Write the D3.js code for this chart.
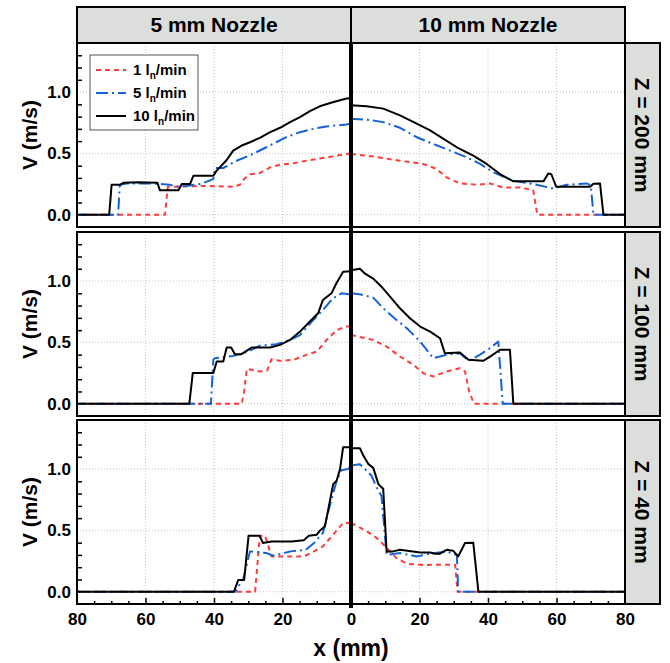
<!DOCTYPE html>
<html>
<head>
<meta charset="utf-8">
<script src="https://cdn.jsdelivr.net/npm/d3@7"></script>
<style>
  body { margin: 0; background: #fff; }
  svg { font-family: 'Liberation Sans', Arial, sans-serif; font-weight: bold; }
</style>
</head>
<body>
<div id="chart"></div>
<script>
// labels
const nozzleLabels = ['5 mm Nozzle', '10 mm Nozzle'];
const heightLabels = ['Z = 200 mm', 'Z = 100 mm', 'Z = 40 mm'];
const flowLabels = ['1', '5', '10'];
const xTickValues = [0, 20, 40, 60, 80];
const yTickValues = [0, 0.5, 1.0];

const z200Nozzle5Flow1 = [[0,0.5],[1.3,0.496],[7.1,0.467],[12.0,0.446],[16.8,0.42],[20.7,0.408],[23.6,0.386],[26.6,0.34],[29.5,0.33],[30.9,0.30],[32.4,0.245],[34.4,0.228],[42.1,0.235],[53.5,0.228],[54.3,0],[80,0]];
const z200Nozzle5Flow5 = [[0,0.745],[1.3,0.736],[7.2,0.72],[11.0,0.70],[14.9,0.673],[18.9,0.632],[21.8,0.591],[24.7,0.55],[28.6,0.496],[33.4,0.44],[37.3,0.381],[39.7,0.381],[40.2,0.29],[44,0.25],[48,0.235],[51,0.228],[53,0.245],[58,0.255],[65.6,0.255],[67.5,0.244],[68.0,0],[80,0]];
const z200Nozzle5Flow10 = [[0,0.95],[1.3,0.947],[3.2,0.933],[6.1,0.911],[9.1,0.884],[12.0,0.845],[14.9,0.796],[17.8,0.755],[20.7,0.709],[23.6,0.673],[26.6,0.627],[29.5,0.591],[31.9,0.564],[34.4,0.523],[36.3,0.446],[39.2,0.36],[40.2,0.318],[46.0,0.318],[47.0,0.25],[49.4,0.25],[50.4,0.2],[55.8,0.2],[56.5,0.26],[62,0.265],[66.5,0.26],[67.4,0.244],[69.9,0.244],[70.6,0],[80,0]];

const z200Nozzle10Flow1 = [[0,0.496],[6.5,0.475],[14.3,0.44],[21.1,0.414],[25.0,0.373],[27.9,0.304],[31.8,0.255],[36.7,0.245],[40.6,0.255],[44.5,0.222],[49.3,0.222],[53.2,0.20],[54.4,0],[80,0]];
const z200Nozzle10Flow5 = [[0,0.783],[4.6,0.775],[9.4,0.755],[14.3,0.709],[19.2,0.632],[24.0,0.577],[28.9,0.523],[33.8,0.468],[37.7,0.414],[41.6,0.345],[47.4,0.277],[53.2,0.25],[59.1,0.214],[63.0,0.244],[68.8,0.255],[70.0,0.24],[70.8,0],[80,0]];
const z200Nozzle10Flow10 = [[0,0.892],[4.6,0.884],[9.4,0.865],[14.3,0.81],[19.2,0.742],[23.1,0.687],[27.0,0.619],[30.9,0.55],[35.7,0.482],[39.6,0.414],[43.5,0.332],[47.4,0.272],[56.2,0.272],[57.6,0.337],[58.5,0.33],[59.9,0.228],[69.8,0.228],[70.8,0.253],[72.7,0.255],[73.7,0],[80,0]];

const z100Nozzle5Flow1 = [[0,0.63],[1.3,0.63],[4.2,0.6],[7.1,0.52],[10.0,0.425],[12.9,0.4],[16.8,0.358],[20.7,0.35],[23.2,0.363],[24.5,0.27],[26.6,0.263],[30.4,0.285],[31.2,0.1],[31.9,0],[80,0]];
const z100Nozzle5Flow5 = [[0,0.89],[2.8,0.9],[5.3,0.859],[8.2,0.764],[11.0,0.683],[14.9,0.56],[17.8,0.52],[21.8,0.485],[26.6,0.474],[30.4,0.42],[34.4,0.39],[37.3,0.38],[39.8,0.37],[40.2,0.358],[40.9,0],[80,0]];
const z100Nozzle5Flow10 = [[0,1.08],[2.3,1.076],[4.3,0.98],[5.7,0.9],[8.2,0.846],[9.6,0.737],[12.0,0.67],[14.9,0.588],[17.8,0.52],[20.7,0.48],[23.6,0.458],[29.0,0.458],[32.0,0.404],[33.9,0.404],[35.0,0.458],[36.3,0.458],[37.3,0.344],[39.2,0.344],[40.2,0.25],[46.2,0.25],[47.2,0],[80,0]];

const z100Nozzle10Flow1 = [[0,0.561],[6.5,0.52],[10.4,0.466],[14.3,0.385],[18.2,0.317],[21.1,0.249],[24.0,0.222],[27.9,0.263],[31.8,0.29],[33.3,0.263],[34.5,0.1],[35.9,0],[80,0]];
const z100Nozzle10Flow5 = [[0,0.9],[2.9,0.89],[6.5,0.865],[9.4,0.778],[13.3,0.683],[16.3,0.615],[20.2,0.507],[24.0,0.371],[27.9,0.4],[31.8,0.412],[34.3,0.35],[37.7,0.4],[40.6,0.453],[43.0,0.507],[44.3,0],[80,0]];
const z100Nozzle10Flow10 = [[0,1.089],[2.6,1.1],[4.1,1.06],[6.5,1.02],[8.9,0.954],[11.4,0.873],[14.3,0.778],[17.2,0.697],[20.2,0.629],[23.1,0.588],[26.0,0.534],[27.4,0.412],[31.8,0.417],[34.3,0.358],[38.6,0.35],[40.6,0.384],[43.5,0.44],[46.4,0.44],[47.4,0],[80,0]];

const z40Nozzle5Flow1 = [[0,0.561],[2.3,0.561],[5.2,0.465],[8.2,0.37],[10.8,0.329],[13.8,0.288],[23.2,0.288],[25.1,0.457],[26.6,0.457],[27.4,0.2],[28.0,0],[80,0]];
const z40Nozzle5Flow5 = [[0,1.02],[0.9,1.0],[2.8,0.99],[4.2,0.904],[6.2,0.698],[8.2,0.479],[10.8,0.397],[13.2,0.342],[17.6,0.329],[22.7,0.293],[24.6,0.315],[29.5,0.329],[31.5,0.1],[32.3,0.07],[33.7,0],[80,0]];
const z40Nozzle5Flow10 = [[0,1.178],[2.3,1.178],[3.2,1.0],[4.2,0.904],[5.2,0.877],[7.6,0.534],[9.0,0.5],[10.0,0.465],[12.3,0.457],[13.8,0.42],[17.4,0.41],[23.2,0.41],[25.7,0.397],[26.7,0.457],[29.9,0.457],[31.2,0.096],[32.9,0.096],[34.2,0],[80,0]];

const z40Nozzle10Flow1 = [[0,0.561],[4.6,0.493],[7.5,0.438],[10.0,0.37],[13.3,0.274],[16.3,0.228],[21.1,0.218],[26.0,0.22],[30.4,0.22],[31.1,0],[80,0]];
const z40Nozzle10Flow5 = [[0,1.03],[2.6,1.04],[4.6,0.986],[6.0,0.945],[7.5,0.849],[8.9,0.781],[10.4,0.301],[14.3,0.315],[19.2,0.288],[23.1,0.31],[27.9,0.329],[30.9,0.30],[31.3,0],[80,0]];
const z40Nozzle10Flow10 = [[0,1.17],[2.6,1.17],[3.6,1.11],[5.1,1.04],[6.5,1.01],[8.0,0.877],[9.4,0.84],[10.4,0.329],[12.3,0.329],[14.3,0.342],[20.2,0.32],[23.1,0.32],[24.5,0.31],[26.0,0.31],[27.9,0.342],[29.8,0.335],[31.3,0.288],[33.3,0.397],[35.7,0.4],[37.2,0],[80,0]];

// rows (Z) x columns (nozzle) x flows
const profiles = [
    [[z200Nozzle5Flow1, z200Nozzle5Flow5, z200Nozzle5Flow10], [z200Nozzle10Flow1, z200Nozzle10Flow5, z200Nozzle10Flow10]],
    [[z100Nozzle5Flow1, z100Nozzle5Flow5, z100Nozzle5Flow10], [z100Nozzle10Flow1, z100Nozzle10Flow5, z100Nozzle10Flow10]],
    [[z40Nozzle5Flow1, z40Nozzle5Flow5, z40Nozzle5Flow10], [z40Nozzle10Flow1, z40Nozzle10Flow5, z40Nozzle10Flow10]]
];

class ProfileGrid {
    constructor(config) {
        this.config = config;
        this.width = config.width;
        this.height = config.height;
        this.left = config.left;
        this.center = config.center;
        this.right = config.right;
        this.stripRight = config.stripRight;
        this.headerTop = config.headerTop;
        this.rowTops = config.rowTops;
        this.panelHeight = config.panelHeight;
        this.styles = config.styles;
        this.svg = null;
        this.xScales = null;
        this.yScales = null;
        this.createSvg();
    }

    createSvg() {
        this.svg = d3.select(this.config.div)
            .append('svg')
            .attr('width', this.width)
            .attr('height', this.height);
    }

    createScales() {
        this.xScales = [
            d3.scaleLinear().domain([80, 0]).range([this.left, this.center]),
            d3.scaleLinear().domain([0, 80]).range([this.center, this.right])
        ];
        this.yScales = this.rowTops.map(t =>
            d3.scaleLinear().domain([-0.1, 1.4]).range([t + this.panelHeight, t]));
    }

    createGrid() {
        this.rowTops.forEach((t, r) => {
            const y = this.yScales[r];
            const g = this.svg.append('g').attr('class', 'grid');
            this.xScales.forEach(x => {
                g.selectAll(null)
                    .data([20, 40, 60])
                    .join('line')
                    .attr('x1', d => x(d)).attr('x2', d => x(d))
                    .attr('y1', t).attr('y2', t + this.panelHeight);
            });
            g.selectAll(null)
                .data(yTickValues)
                .join('line')
                .attr('x1', this.left).attr('x2', this.right)
                .attr('y1', d => y(d)).attr('y2', d => y(d));
            g.selectAll('line')
                .attr('stroke', '#c4c4c4')
                .attr('stroke-width', 1)
                .attr('stroke-dasharray', '1,2');
        });
    }

    createLines() {
        profiles.forEach((row, r) => {
            row.forEach((col, c) => {
                const line = d3.line()
                    .x(d => this.xScales[c](d[0]))
                    .y(d => this.yScales[r](d[1]));
                col.forEach((series, f) => {
                    const s = this.styles[f];
                    this.svg.append('path')
                        .datum(series)
                        .attr('d', line)
                        .attr('fill', 'none')
                        .attr('stroke', s.color)
                        .attr('stroke-width', 2)
                        .attr('stroke-linejoin', 'round')
                        .attr('stroke-dasharray', s.dash);
                });
            });
        });
    }

    createAxes() {
        const fmt = d3.format('.1f');
        const minorY = d3.range(1, 14).map(d => d / 10).filter(d => d !== 0.5 && d !== 1);
        this.rowTops.forEach((t, r) => {
            const y = this.yScales[r];
            this.svg.append('g')
                .attr('transform', `translate(${this.left},0)`)
                .call(d3.axisLeft(y).tickValues(minorY).tickSize(-5).tickFormat(''))
                .call(g => g.select('.domain').remove())
                .selectAll('line').attr('stroke', '#000').attr('stroke-width', 1.5);
            this.svg.append('g')
                .attr('transform', `translate(${this.left},0)`)
                .call(d3.axisLeft(y).tickValues(yTickValues).tickSize(0).tickPadding(6).tickFormat(fmt))
                .call(g => g.select('.domain').remove())
                .selectAll('text')
                .attr('font-family', "'Liberation Sans', Arial, sans-serif")
                .attr('font-weight', 'bold')
                .attr('font-size', 17)
                .attr('fill', '#000');

            this.svg.append('text')
                .attr('transform', `translate(30,${t + this.panelHeight / 2}) rotate(-90)`)
                .attr('text-anchor', 'middle')
                .attr('dy', '0.35em')
                .attr('font-size', 21)
                .text('V (m/s)');
        });

        const bottom = this.rowTops[2] + this.panelHeight;
        const minorX = d3.range(5, 80, 5).filter(d => d % 20 !== 0);
        this.xScales.forEach((x, c) => {
            this.svg.append('g')
                .attr('transform', `translate(0,${bottom})`)
                .call(d3.axisBottom(x).tickValues(minorX).tickSize(-3).tickFormat(''))
                .call(g => g.select('.domain').remove())
                .selectAll('line').attr('stroke', '#000').attr('stroke-width', 1.5);
            this.svg.append('g')
                .attr('transform', `translate(0,${bottom})`)
                .call(d3.axisBottom(x).tickValues([20, 40, 60]).tickSize(-6).tickFormat(''))
                .call(g => g.select('.domain').remove())
                .selectAll('line').attr('stroke', '#000').attr('stroke-width', 1.5);
            this.svg.append('g')
                .attr('transform', `translate(0,${bottom})`)
                .call(d3.axisBottom(x).tickValues(c === 0 ? xTickValues : xTickValues.slice(1)).tickSize(0).tickPadding(9))
                .call(g => g.select('.domain').remove())
                .selectAll('text')
                .attr('font-family', "'Liberation Sans', Arial, sans-serif")
                .attr('font-weight', 'bold')
                .attr('font-size', 17)
                .attr('fill', '#000');
        });

        this.svg.append('text')
            .attr('x', this.center)
            .attr('y', 656)
            .attr('text-anchor', 'middle')
            .attr('font-size', 23)
            .text('x (mm)');
    }

    createFrames() {
        this.rowTops.forEach((t, r) => {
            this.svg.append('rect')
                .attr('x', this.left).attr('y', t)
                .attr('width', this.right - this.left).attr('height', this.panelHeight)
                .attr('fill', 'none').attr('stroke', '#000').attr('stroke-width', 2);

            this.svg.append('rect')
                .attr('x', this.right).attr('y', t)
                .attr('width', this.stripRight - this.right).attr('height', this.panelHeight)
                .attr('fill', '#dcdedb').attr('stroke', '#000').attr('stroke-width', 2);

            this.svg.append('text')
                .attr('transform', `translate(${(this.right + this.stripRight) / 2},${t + this.panelHeight / 2}) rotate(90)`)
                .attr('text-anchor', 'middle')
                .attr('dy', '0.35em')
                .attr('font-size', 21)
                .text(heightLabels[r]);
        });

        const headerBottom = this.rowTops[0];
        this.svg.append('rect')
            .attr('x', this.left).attr('y', this.headerTop)
            .attr('width', this.right - this.left).attr('height', headerBottom - this.headerTop)
            .attr('fill', '#dcdedb').attr('stroke', '#000').attr('stroke-width', 2);
        this.svg.append('line')
            .attr('x1', this.center).attr('x2', this.center)
            .attr('y1', this.headerTop).attr('y2', headerBottom)
            .attr('stroke', '#000').attr('stroke-width', 2);
        nozzleLabels.forEach((label, c) => {
            const cx = c === 0 ? (this.left + this.center) / 2 : (this.center + this.right) / 2;
            this.svg.append('text')
                .attr('x', cx)
                .attr('y', (this.headerTop + headerBottom) / 2)
                .attr('dy', '0.35em')
                .attr('text-anchor', 'middle')
                .attr('font-size', 21)
                .text(label);
        });

        // heavy axis line at x = 0
        this.svg.append('line')
            .attr('x1', this.center).attr('x2', this.center)
            .attr('y1', headerBottom).attr('y2', this.rowTops[2] + this.panelHeight + 4)
            .attr('stroke', '#000').attr('stroke-width', 4);
    }

    createLegend() {
        const lg = this.svg.append('g').attr('transform', 'translate(90,55)');
        lg.append('rect')
            .attr('width', 108).attr('height', 75)
            .attr('fill', '#fff').attr('stroke', '#555').attr('stroke-width', 1);
        flowLabels.forEach((flow, f) => {
            const s = this.styles[f];
            const yy = 15 + f * 23;
            lg.append('line')
                .attr('x1', 6).attr('x2', 36)
                .attr('y1', yy).attr('y2', yy)
                .attr('stroke', s.color).attr('stroke-width', 2)
                .attr('stroke-dasharray', s.dash);
            const txt = lg.append('text')
                .attr('x', 43).attr('y', yy + 5)
                .attr('font-size', 15);
            txt.append('tspan').text(flow + ' l');
            txt.append('tspan').attr('dy', 4).attr('font-size', 10).text('n');
            txt.append('tspan').attr('dy', -4).text('/min');
        });
    }
}

function startProfileGrid(object) {
    let chart = new ProfileGrid(object);
    chart.createScales();
    chart.createGrid();
    chart.createLines();
    chart.createFrames();
    chart.createAxes();
    chart.createLegend();
}

startProfileGrid({
    div: '#chart',
    width: 670,
    height: 663,
    left: 77,
    center: 351,
    right: 625,
    stripRight: 660,
    headerTop: 7,
    rowTops: [43, 232, 420],
    panelHeight: 184,
    styles: [
        { color: '#ff3b3b', dash: '5,4' },
        { color: '#1464d8', dash: '12,4,2,4' },
        { color: '#000000', dash: null }
    ]
});
</script>
</body>
</html>
